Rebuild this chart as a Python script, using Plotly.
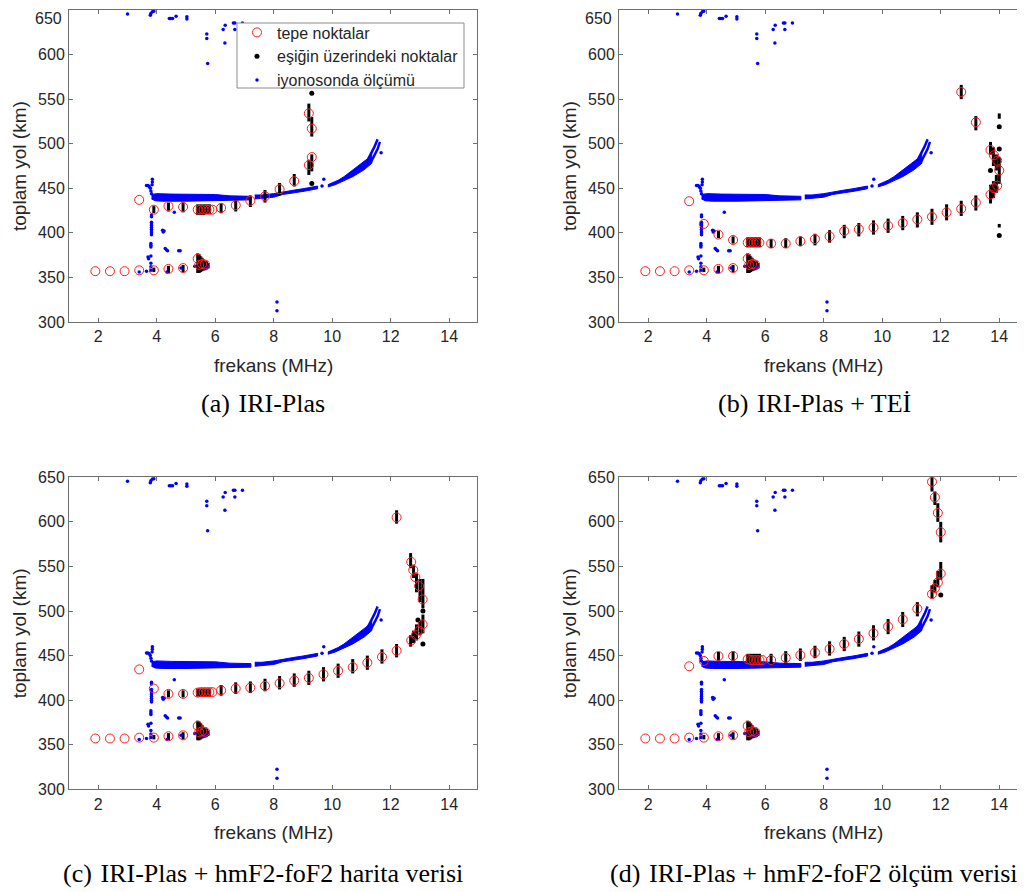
import plotly.graph_objects as go

# page offset of the figure (browser body margin) -> work in figure pixels
OFF = 8
W, H = 1025 - OFF, 892 - OFF

# ---------------- shared data (ionosonde measurement, blue) ----------------
blue_band1_f = [3.82, 4.0, 4.5, 5.0, 5.5, 6.0, 6.5, 7.0, 7.22, 7.22, 6.5, 6.0, 5.0, 4.2, 3.95, 3.82]
blue_band1_km = [443, 444, 443.5, 443.5, 443.5, 443, 441.5, 441, 441, 437, 436.5, 435.5, 435.5, 435.5, 436, 438]
blue_band2_f = [7.35, 7.6, 8.0, 8.3, 8.7, 9.0, 9.3, 9.5, 9.5, 9.3, 9.0, 8.7, 8.3, 8.0, 7.6, 7.35]
blue_band2_km = [442.5, 442.5, 444, 446, 448, 449.5, 451, 452.5, 449.5, 448, 446.5, 445, 443, 440, 438.5, 438]
blue_band3_f = [9.85, 10.0, 10.2, 10.4, 10.6, 10.8, 11.0, 11.2, 11.35, 11.35, 11.1, 10.9, 10.7, 10.5, 10.3, 10.1, 9.85]
blue_band3_km = [454, 456, 459, 463, 468, 472, 477, 483, 489, 478, 471, 467, 463, 460, 457, 454, 451.5]
blue_branch1_f = [11.2, 11.35, 11.45, 11.55]
blue_branch1_km = [481, 490, 497, 505]
blue_branch2_f = [11.3, 11.45, 11.55, 11.63]
blue_branch2_km = [478, 487, 494, 502]
blue_dot_f = [3.0, 3.78, 3.8, 3.85, 3.9, 4.43, 4.48, 4.54, 4.66, 5.03, 5.03, 5.71, 5.71, 5.74,
              6.27, 6.34, 6.33, 6.62, 6.67, 6.67, 6.93,
              3.65, 3.7, 3.74, 3.78, 3.8, 3.82, 3.85, 3.85, 3.84,
              3.82, 3.82, 3.82, 3.82, 3.82, 3.82, 3.82, 3.82, 3.82, 3.82,
              3.8, 3.8, 3.8, 3.8, 3.8, 3.8, 3.8,
              3.7, 3.72, 3.4, 3.65, 4.2, 4.22, 4.25, 4.29, 4.33, 4.37, 4.75, 4.8, 4.6,
              4.35, 4.83, 5.3, 5.6, 5.7, 5.75, 9.71, 9.65, 11.67, 8.11, 8.11]
blue_dot_km = [645.5, 644, 646, 648, 648.5, 640.5, 640.5, 640.5, 643, 642.5, 640, 623, 618, 590,
               628, 633, 613, 635.5, 635.5, 628, 635.5,
               453, 453, 452, 450, 447, 444, 460, 457, 454,
               420, 418, 412, 410, 408, 406, 404, 402, 400, 398,
               388, 386, 384, 374, 366, 362, 358,
               373, 371, 356, 357, 403, 401, 402, 382.5, 381, 380, 380, 380, 423,
               356, 360.5, 362.5, 360, 361, 362, 460, 452.5, 490, 322.5, 312.5]

# lower trace (identical in all four panels)
red_low_f = [1.9, 2.4, 2.9, 3.4, 3.9, 4.4, 4.9, 5.4, 5.45, 5.55, 5.65]
red_low_km = [357, 357, 357, 358, 358, 359.5, 360.5, 371, 364, 365, 364.5]
black_low_f = [3.9, 4.4, 4.9, 5.4, 5.45, 5.5, 5.55, 5.6, 5.65, 5.7, 5.75]
black_low_lo = [356, 355, 356, 355, 355, 356, 357, 358, 358, 359, 360]
black_low_hi = [361, 363, 364, 377, 376, 374, 372, 370, 369, 368, 366]

# ---------------- (a) IRI-Plas ----------------
red_a_f = [3.4, 3.9, 4.4, 4.9, 5.4, 5.5, 5.6, 5.7, 5.8, 5.9, 6.2, 6.7, 7.2, 7.7, 8.2, 8.7, 9.2, 9.2, 9.3, 9.3]
red_a_km = [437, 426, 430, 429, 426, 426, 426, 426, 426, 426, 428, 431, 436, 441, 449, 458, 476, 534, 517, 485]
black_a_f = [3.9, 4.4, 4.9, 5.4, 5.5, 5.6, 5.7, 5.8, 6.2, 6.7, 7.2, 7.7, 8.2, 8.7, 9.2, 9.2, 9.3, 9.3]
black_a_lo = [422, 424, 423, 420, 420, 420, 421, 421, 422, 424, 429, 434, 442, 452, 525, 465, 508, 469]
black_a_hi = [430, 434, 434, 432, 432, 432, 432, 432, 433, 438, 442, 448, 456, 466, 545, 482, 530, 488]
dot_a_f = [9.3, 9.3]
dot_a_km = [556.5, 455.5]

# ---------------- (b) IRI-Plas + TEİ ----------------
red_b_f = [3.4, 3.9, 4.4, 4.9, 5.4, 5.5, 5.6, 5.7, 5.8, 6.2, 6.7, 7.2, 7.7, 8.2, 8.7, 9.2, 9.7, 10.2, 10.7,
           11.2, 11.7, 12.2, 12.7, 13.2, 13.7, 13.82, 13.93, 12.7, 13.2, 13.7, 13.82, 13.93, 14.0]
red_b_km = [435.5, 410, 398, 392, 389, 389, 389, 389, 389, 388, 388, 390.5, 393, 396, 402, 404, 406, 408, 411,
            415, 418, 423, 427, 434, 443, 450, 453, 558, 524, 493, 487, 481, 470]
black_b_f = [4.4, 4.9, 5.4, 5.5, 5.6, 5.7, 5.8, 6.2, 6.7, 7.2, 7.7, 8.2, 8.7, 9.2, 9.7, 10.2, 10.7, 11.2, 11.7,
             12.2, 12.7, 13.2, 12.7, 13.2, 13.7, 13.7, 13.8, 13.8, 13.9, 13.9, 14.0, 14.0, 14.0]
black_b_lo = [394, 388, 384, 384, 384, 384, 384, 383, 383, 385, 386, 389, 394, 396, 398, 400, 403, 406, 409,
              414, 419, 425, 550, 515, 488, 433, 475, 439, 470, 445, 455, 528, 406]
black_b_hi = [402, 396, 395, 395, 395, 395, 395, 393, 394, 396, 399, 403, 409, 411, 414, 416, 419, 423, 427,
              432, 436, 442, 566, 531, 502, 454, 496, 458, 488, 465, 485, 534, 410]
dot_b_f = [14.0, 14.0, 14.0, 13.7]
dot_b_km = [519, 494, 397, 470]

# ---------------- (c) IRI-Plas + hmF2-foF2 harita verisi ----------------
red_c_f = [3.4, 3.9, 4.4, 4.9, 5.4, 5.5, 5.6, 5.7, 5.8, 5.9, 6.2, 6.7, 7.2, 7.7, 8.2, 8.7, 9.2, 9.7, 10.2, 10.7,
           11.2, 11.7, 12.2, 12.2, 12.7, 12.77, 12.84, 12.97, 13.09, 13.09, 12.97, 12.86, 12.7]
red_c_km = [434.5, 413, 407, 407, 408.5, 409, 409, 409, 409, 409, 411, 413, 414, 416, 419, 422, 425, 429, 433, 437,
            442, 448.5, 455.5, 605, 555, 546, 538, 528, 513, 485, 478, 473, 467]
black_c_f = [4.4, 4.9, 5.4, 5.5, 5.6, 5.7, 5.8, 6.2, 6.7, 7.2, 7.7, 8.2, 8.7, 9.2, 9.7, 10.2, 10.7, 11.2, 11.7,
             12.2, 12.2, 12.68, 12.78, 12.88, 13.0, 13.1, 13.1, 13.0, 12.88, 12.78, 12.68]
black_c_lo = [403, 403, 404, 404, 404, 404, 404, 405, 407, 408, 410, 412, 415, 417, 421, 425, 430, 434, 441,
              448, 598, 548, 537, 521, 510, 503, 475, 473, 467, 464, 460]
black_c_hi = [411, 411, 413, 413, 413, 413, 413, 417, 420, 421, 424, 427, 430, 433, 437, 441, 446, 450, 457,
              463, 613, 565, 552, 542, 536, 536, 496, 490, 485, 478, 473]
dot_c_f = [12.93, 13.1, 13.1]
dot_c_km = [490, 463, 500]

# ---------------- (d) IRI-Plas + hmF2-foF2 ölçüm verisi ----------------
red_d_f = [3.4, 3.9, 4.4, 4.9, 5.4, 5.5, 5.6, 5.7, 5.8, 5.9, 6.2, 6.7, 7.2, 7.7, 8.2, 8.7, 9.2, 9.7, 10.2, 10.7,
           11.2, 11.7, 11.8, 11.9, 12.0, 12.0, 11.9, 11.8, 11.7]
red_d_km = [438, 444, 449.5, 449.5, 446, 445, 445, 445, 445, 445, 445, 447.5, 450.5, 453.5, 457.5, 463, 468.5, 475,
            482.5, 490.5, 502.5, 645, 627.5, 610, 588.5, 542, 532, 525.5, 519]
black_d_f = [4.4, 4.9, 5.4, 5.5, 5.6, 5.7, 5.8, 6.2, 6.7, 7.2, 7.7, 8.2, 8.7, 9.2, 9.7, 10.2, 10.7, 11.2,
             11.7, 11.8, 11.9, 12.0, 12.0, 11.9, 11.8, 11.7]
black_d_lo = [444, 444, 441, 441, 441, 441, 441, 440, 441, 444, 447, 450, 455, 460, 467, 474, 482, 494,
              634, 619, 600, 577, 535, 527, 521, 514]
black_d_hi = [454, 455, 452, 452, 452, 452, 452, 452, 455, 458, 461, 466, 471, 477, 484, 491, 499, 510,
              651, 634, 621, 600, 555, 545, 535, 529]
dot_d_f = [12.0]
dot_d_km = [518]

x_ticks = [2, 4, 6, 8, 10, 12, 14]
y_ticks = [300, 350, 400, 450, 500, 550, 600, 650]
y_tick_text = ["300", "350", "400", "450", "500", "550", "600", "650"]
captions = ["(a)\u2004IRI-Plas", "(b)\u2004IRI-Plas + TE\u0130",
            "(c)\u2004IRI-Plas + hmF2-foF2 harita verisi", "(d)\u2004IRI-Plas + hmF2-foF2 \u00f6l\u00e7\u00fcm verisi"]

RED = "#ff1a1a"
BLUE = "#0000ff"
AX = "#6e6e6e"
TXT = "#262626"
SANS = "Liberation Sans, Arial, sans-serif"
SERIF = "Liberation Serif, Times New Roman, serif"


def segs(fs, los, his):
    xs, ys = [], []
    for f, lo, hi in zip(fs, los, his):
        xs += [f, f, None]
        ys += [lo, hi, None]
    return xs, ys


# panel boxes in page pixels (left, right, top, bottom); right panels run past the page edge
panels = [
    dict(n=1, red_f=red_a_f, red_km=red_a_km, bf=black_a_f, blo=black_a_lo, bhi=black_a_hi, df=dot_a_f, dk=dot_a_km,
         left=69, right=477, top=10, bottom=322, cap=(263, 404)),
    dict(n=2, red_f=red_b_f, red_km=red_b_km, bf=black_b_f, blo=black_b_lo, bhi=black_b_hi, df=dot_b_f, dk=dot_b_km,
         left=619, right=1028, top=10, bottom=322, cap=(814, 404)),
    dict(n=3, red_f=red_c_f, red_km=red_c_km, bf=black_c_f, blo=black_c_lo, bhi=black_c_hi, df=dot_c_f, dk=dot_c_km,
         left=69, right=477, top=477.3, bottom=789.3, cap=(263, 873)),
    dict(n=4, red_f=red_d_f, red_km=red_d_km, bf=black_d_f, blo=black_d_lo, bhi=black_d_hi, df=dot_d_f, dk=dot_d_km,
         left=619, right=1028, top=477.3, bottom=789.3, cap=(814, 873)),
]

fig = go.Figure()
PX_PER_MHZ = 29.25
layout_axes = {}
annotations = []


def px(x):
    return (x - OFF) / W


def py(y):
    return 1 - (y - OFF) / H


for p in panels:
    n = p["n"]
    xa = "x" if n == 1 else f"x{n}"
    ya = "y" if n == 1 else f"y{n}"
    leg = (n == 1)
    for bf, bk in [(blue_band1_f, blue_band1_km), (blue_band2_f, blue_band2_km), (blue_band3_f, blue_band3_km)]:
        fig.add_trace(go.Scatter(x=bf, y=bk, xaxis=xa, yaxis=ya, mode="lines", fill="toself",
                                 fillcolor=BLUE, line=dict(color=BLUE, width=1), showlegend=False,
                                 hoverinfo="skip"))
    for bf, bk in [(blue_branch1_f, blue_branch1_km), (blue_branch2_f, blue_branch2_km)]:
        fig.add_trace(go.Scatter(x=bf, y=bk, xaxis=xa, yaxis=ya, mode="lines",
                                 line=dict(color=BLUE, width=2.5), showlegend=False, hoverinfo="skip"))
    sx, sy = segs(black_low_f + p["bf"], black_low_lo + p["blo"], black_low_hi + p["bhi"])
    fig.add_trace(go.Scatter(x=sx, y=sy, xaxis=xa, yaxis=ya, mode="lines",
                             line=dict(color="black", width=3), showlegend=False, hoverinfo="skip"))
    fig.add_trace(go.Scatter(x=p["df"], y=p["dk"], xaxis=xa, yaxis=ya, mode="markers",
                             marker=dict(color="black", size=5), name="eşiğin üzerindeki noktalar",
                             showlegend=leg, legendrank=2))
    fig.add_trace(go.Scatter(x=blue_dot_f, y=blue_dot_km, xaxis=xa, yaxis=ya, mode="markers",
                             marker=dict(color=BLUE, size=3.5), name="iyonosonda ölçümü",
                             showlegend=leg, legendrank=3))
    fig.add_trace(go.Scatter(x=red_low_f + p["red_f"], y=red_low_km + p["red_km"], xaxis=xa, yaxis=ya,
                             mode="markers",
                             marker=dict(symbol="circle-open", color=RED, size=9, line=dict(width=1)),
                             name="tepe noktalar", showlegend=leg, legendrank=1))

    top_row = p["top"] < 100
    right_fig = min(p["right"], OFF + W)
    xmax = 1 + (right_fig - p["left"]) / PX_PER_MHZ
    suffix = "" if n == 1 else str(n)
    # in the top row the highest label would run past the page top: it is written just below instead
    ttext = y_tick_text[:-1] + [""] if top_row else y_tick_text
    layout_axes["xaxis" + suffix] = dict(
        domain=[px(p["left"]), px(right_fig)], range=[1, xmax], anchor=ya, automargin=False,
        tickvals=x_ticks, ticks="inside", ticklen=4, tickcolor=AX, showline=True, linecolor=AX,
        linewidth=1, mirror="ticks", showgrid=False, zeroline=False, ticklabeloverflow="allow",
        tickfont=dict(family=SANS, size=16, color=TXT))
    layout_axes["yaxis" + suffix] = dict(
        domain=[py(p["bottom"]), py(p["top"])], range=[300, 650], anchor=xa, automargin=False,
        tickvals=y_ticks, ticktext=ttext, ticks="inside", ticklen=4, tickcolor=AX, showline=True,
        linecolor=AX, linewidth=1, mirror=("ticks" if p["right"] <= OFF + W else False), showgrid=False,
        zeroline=False, ticklabeloverflow="allow",
        tickfont=dict(family=SANS, size=16, color=TXT))
    if top_row:
        annotations.append(dict(text=y_tick_text[-1], x=px(p["left"] - 6.5), y=py(18.5),
                                xref="paper", yref="paper", showarrow=False, xanchor="right",
                                yanchor="middle", borderpad=0,
                                font=dict(family=SANS, size=16, color=TXT)))

    cx = (p["left"] + p["right"]) / 2
    cy = (p["top"] + p["bottom"]) / 2
    annotations.append(dict(text="frekans (MHz)", x=px(cx), y=py(p["bottom"] + 43.5),
                            xref="paper", yref="paper", showarrow=False, xanchor="center", yanchor="middle",
                            font=dict(family=SANS, size=19, color=TXT)))
    annotations.append(dict(text="toplam yol (km)", x=px(p["left"] - 50), y=py(cy),
                            xref="paper", yref="paper", showarrow=False, xanchor="center", yanchor="middle",
                            textangle=-90, font=dict(family=SANS, size=19, color=TXT)))
    annotations.append(dict(text=captions[n - 1], x=px(p["cap"][0]), y=py(p["cap"][1]),
                            xref="paper", yref="paper", showarrow=False, xanchor="center", yanchor="middle",
                            font=dict(family=SERIF, size=26, color="black")))

# legend frame of panel (a)
shapes = [dict(type="rect", xref="paper", yref="paper", x0=px(237), x1=px(464), y0=py(88), y1=py(23),
               fillcolor="white", line=dict(color="#8c8c8c", width=1), layer="above")]

fig.update_layout(
    width=W, height=H, autosize=False,
    margin=dict(l=0, r=0, t=0, b=0, autoexpand=False),
    paper_bgcolor="white", plot_bgcolor="white",
    annotations=annotations, shapes=shapes,
    legend=dict(x=px(237), y=py(15.5), xanchor="left", yanchor="top",
                bgcolor="rgba(0,0,0,0)", borderwidth=0,
                font=dict(family=SANS, size=16, color=TXT), tracegroupgap=0),
    **layout_axes,
)

fig.write_html("out.html")
